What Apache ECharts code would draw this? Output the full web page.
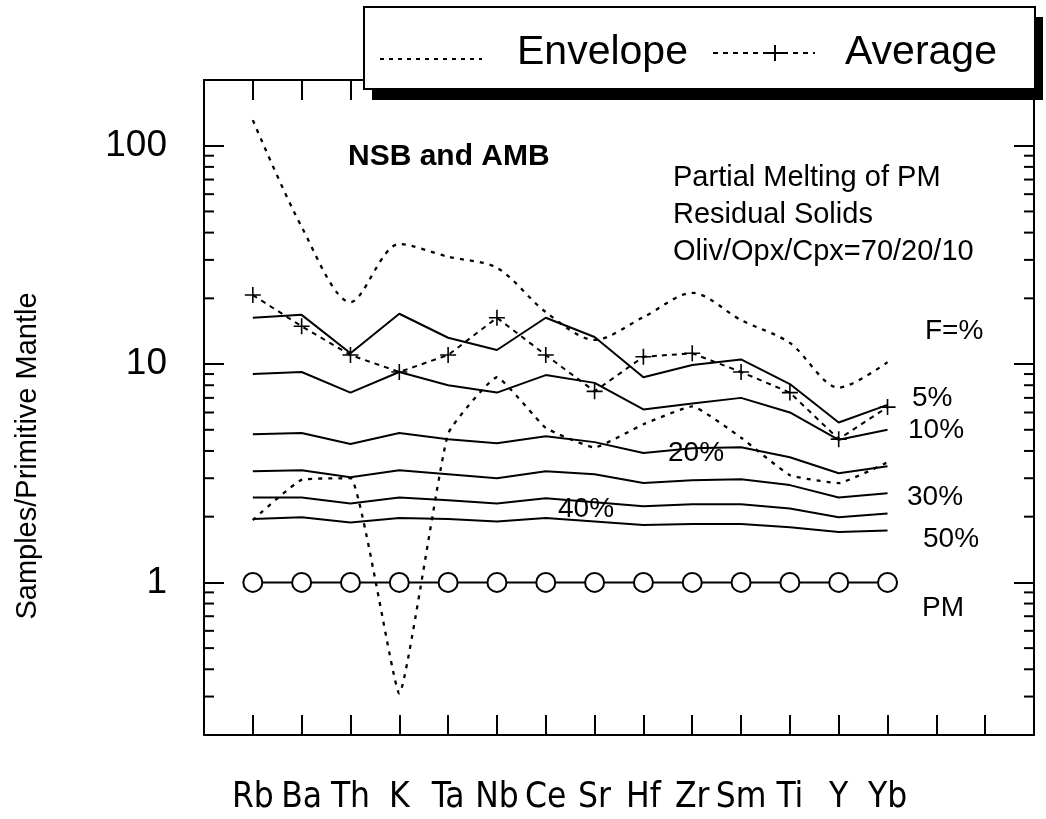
<!DOCTYPE html>
<html>
<head>
<meta charset="utf-8">
<script src="https://cdn.jsdelivr.net/npm/echarts@6/dist/echarts.min.js"></script>
<style>
html,body{margin:0;padding:0;background:#fff;}
#chart{width:1046px;height:819px;}
</style>
</head>
<body>
<div id="chart"></div>
<script>
const categories = ['Rb','Ba','Th','K','Ta','Nb','Ce','Sr','Hf','Zr','Sm','Ti','Y','Yb'];
const pm = [1,1,1,1,1,1,1,1,1,1,1,1,1,1];
const f5  = [16.3,16.8,11.2,17.0,13.2,11.6,16.3,13.3,8.7,9.9,10.5,8.1,5.4,6.5];
const f10 = [9.0,9.2,7.4,9.2,8.0,7.4,8.9,8.2,6.2,6.6,7.0,6.0,4.5,5.0];
const f20 = [4.77,4.83,4.30,4.83,4.53,4.34,4.67,4.39,3.91,4.12,4.16,3.74,3.16,3.40];
const f30 = [3.23,3.26,3.03,3.26,3.13,3.00,3.23,3.13,2.85,2.94,2.97,2.79,2.45,2.56];
const f40 = [2.45,2.45,2.30,2.45,2.38,2.30,2.43,2.33,2.23,2.28,2.28,2.18,1.99,2.07];
const f50 = [1.95,1.99,1.88,1.97,1.95,1.90,1.97,1.90,1.83,1.85,1.85,1.79,1.70,1.73];
const average = [20.7,14.9,11.0,9.2,11.0,16.3,11.0,7.5,10.8,11.2,9.2,7.4,4.53,6.35];
const envelopeUpper = [131,42.5,19.2,35.5,31,27.6,17.3,12.9,16.4,21.2,15.9,12.5,7.8,10.2];
const envelopeLower = [1.93,2.95,3.0,0.31,4.8,8.7,5.1,4.15,5.3,6.4,4.6,3.1,2.85,3.55];
const majorTickLabels = [1,10,100];
const minorTickValues = [0.3,0.4,0.5,0.6,0.7,0.8,0.9,2,3,4,5,6,7,8,9,20,30,40,50,60,70,80,90];

const FONT = "'Liberation Sans', Arial, Helvetica, sans-serif";
const COND = "'DejaVu Sans Condensed', 'Liberation Sans', sans-serif";

function pairs(arr){ return arr.map((v,i)=>[i,v]); }

const chart = echarts.init(document.getElementById('chart'), null, {renderer:'canvas'});

const axisLineStyle = {color:'#000', width:2};
const xBase = {
  type:'value', min:-1, max:16, interval:1,
  axisLine:{show:true, onZero:false, lineStyle:axisLineStyle},
  axisTick:{show:true, inside:true, length:20, lineStyle:{color:'#000', width:2}},
  splitLine:{show:false}
};
const yBase = {
  type:'log', logBase:10, min:0.2, max:200,
  axisLine:{show:true, onZero:false, lineStyle:axisLineStyle},
  axisTick:{show:true, inside:true, length:20, lineStyle:{color:'#000', width:2}},
  splitLine:{show:false},
  minorTick:{show:false}
};

const lineStyleSolid = {color:'#000', width:2};

function meltSeries(name, data){
  return {name, type:'line', xAxisIndex:0, yAxisIndex:0, data:pairs(data),
    symbol:'none', lineStyle:lineStyleSolid, silent:true, z:3};
}

const plusPath = 'path://M-1,-10 L1,-10 L1,-1 L10,-1 L10,1 L1,1 L1,10 L-1,10 L-1,1 L-10,1 L-10,-1 L-1,-1 Z';

function txt(text, x, y, font, align){
  return {type:'text', z:50, x:x, y:y, style:{text:text, font:font, fill:'#000',
    align:align||'left', verticalAlign:'middle', textAlign:align||'left', textVerticalAlign:'middle'}};
}

const option = {
  animation:false,
  backgroundColor:'#fff',
  grid:{left:204, right:12, top:80, bottom:84, containLabel:false},
  xAxis:[
    Object.assign({}, xBase, {position:'bottom',
      axisLabel:{show:true, margin:45, fontSize:35, fontFamily:COND, color:'#000',
        formatter:function(v){ const i=Math.round(v); return (Math.abs(v-i)<1e-6 && categories[i]) ? categories[i] : ''; }}}),
    Object.assign({}, xBase, {position:'top', axisLabel:{show:false}})
  ],
  yAxis:[
    Object.assign({}, yBase, {position:'left',
      axisLabel:{show:true, margin:37, fontSize:37, fontFamily:FONT, color:'#000',
        formatter:function(v){ const r=Math.round(v*1000)/1000; return majorTickLabels.indexOf(r)>=0 ? String(r) : ''; }}}),
    Object.assign({}, yBase, {position:'right', axisLabel:{show:false}})
  ],
  series:[
    {
      name:'minorTicks', type:'custom', xAxisIndex:0, yAxisIndex:0, silent:true,
      data:minorTickValues.map(v=>[0,v]),
      encode:{x:0, y:1},
      renderItem:function(params, api){
        const cs = params.coordSys;
        const y = api.coord([0, api.value(1)])[1];
        return {type:'group', children:[
          {type:'line', shape:{x1:cs.x, y1:y, x2:cs.x+10, y2:y}, style:{stroke:'#000', lineWidth:2}},
          {type:'line', shape:{x1:cs.x+cs.width-10, y1:y, x2:cs.x+cs.width, y2:y}, style:{stroke:'#000', lineWidth:2}}
        ]};
      },
      z:2
    },
    {name:'Envelope', type:'line', xAxisIndex:0, yAxisIndex:0, data:pairs(envelopeUpper), symbol:'none', smooth:0.3,
      lineStyle:{color:'#000', width:2.3, type:[4,6]}, silent:true, z:3},
    {name:'EnvelopeLower', type:'line', xAxisIndex:0, yAxisIndex:0, data:pairs(envelopeLower), symbol:'none', smooth:0.12,
      lineStyle:{color:'#000', width:2.3, type:[4,6]}, silent:true, z:3},
    meltSeries('5%', f5),
    meltSeries('10%', f10),
    meltSeries('20%', f20),
    meltSeries('30%', f30),
    meltSeries('40%', f40),
    meltSeries('50%', f50),
    {name:'Average', type:'line', xAxisIndex:0, yAxisIndex:0, data:pairs(average),
      symbol:plusPath, symbolSize:16, itemStyle:{color:'#000'},
      lineStyle:{color:'#000', width:2, type:[5,5]}, silent:true, z:4},
    {name:'PM', type:'line', xAxisIndex:0, yAxisIndex:0, data:pairs(pm),
      symbol:'circle', symbolSize:19, itemStyle:{color:'#fff', borderColor:'#000', borderWidth:2},
      lineStyle:{color:'#000', width:2}, silent:true, z:5}
  ],
  graphic:[
    {type:'rect', z:100, shape:{x:372, y:17, width:671, height:83}, style:{fill:'#000'}},
    {type:'rect', z:101, shape:{x:364, y:7, width:671, height:82}, style:{fill:'#fff', stroke:'#000', lineWidth:2}},
    {type:'line', z:102, shape:{x1:380, y1:59, x2:482, y2:59}, style:{stroke:'#000', lineWidth:2, lineDash:[4,5]}},
    Object.assign(txt('Envelope', 517, 53, "41px "+FONT), {z:102}),
    {type:'line', z:102, shape:{x1:713, y1:53, x2:815, y2:53}, style:{stroke:'#000', lineWidth:2, lineDash:[5,5]}},
    {type:'line', z:102, shape:{x1:775, y1:45, x2:775, y2:61}, style:{stroke:'#000', lineWidth:2}},
    {type:'line', z:102, shape:{x1:767, y1:53, x2:783, y2:53}, style:{stroke:'#000', lineWidth:2}},
    Object.assign(txt('Average', 845, 53, "41px "+FONT), {z:102}),
    {type:'text', z:50, x:28, y:456, rotation:Math.PI/2, style:{text:'Samples/Primitive Mantle', font:"29px "+FONT, fill:'#000', align:'center', verticalAlign:'middle', textAlign:'center', textVerticalAlign:'middle'}},
    txt('NSB and AMB', 348, 157, "bold 30px "+FONT),
    txt('Partial Melting of PM', 673, 178, "29px "+FONT),
    txt('Residual Solids', 673, 215, "29px "+FONT),
    txt('Oliv/Opx/Cpx=70/20/10', 673, 252, "29px "+FONT),
    txt('F=%', 925, 331, "28px "+FONT),
    txt('5%', 912, 398, "28px "+FONT),
    txt('10%', 908, 430, "28px "+FONT),
    txt('20%', 668, 453, "28px "+FONT),
    txt('30%', 907, 497, "28px "+FONT),
    txt('40%', 558, 509, "28px "+FONT),
    txt('50%', 923, 539, "28px "+FONT),
    txt('PM', 922, 608, "28px "+FONT)
  ]
};
chart.setOption(option);
</script>
</body>
</html>
